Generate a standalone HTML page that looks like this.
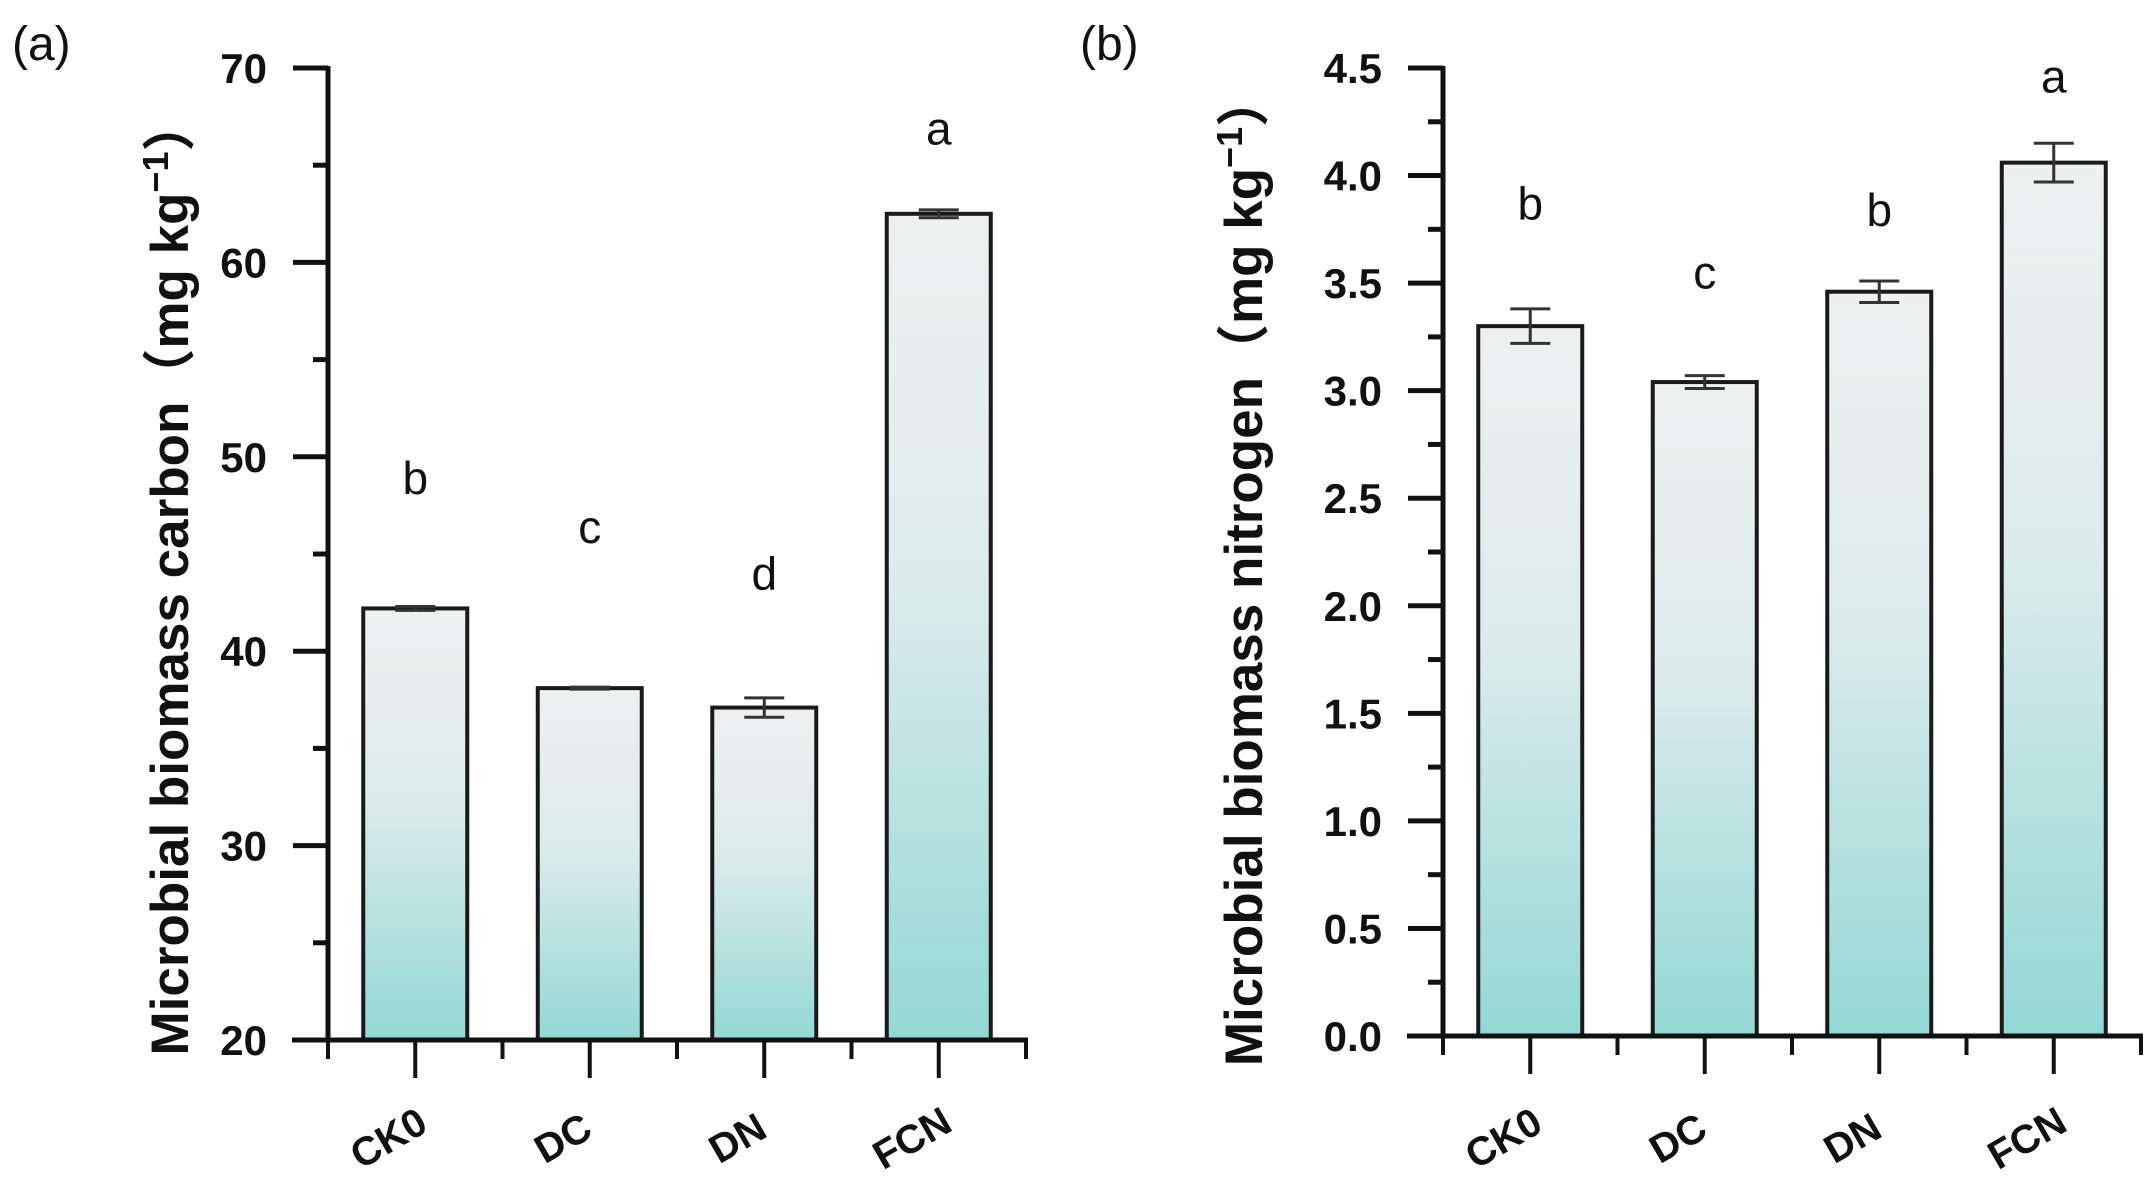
<!DOCTYPE html>
<html><head><meta charset="utf-8">
<style>
html,body{margin:0;padding:0;background:#fff;}
svg{display:block;font-family:"Liberation Sans","Noto Sans CJK SC",sans-serif;}
</style></head>
<body>
<svg id="chart" width="2155" height="1203" viewBox="0 0 2155 1203" xmlns="http://www.w3.org/2000/svg">
<defs>
<linearGradient id="barGrad" x1="0" y1="0" x2="0" y2="1">
<stop offset="0" stop-color="#eff0f0"/>
<stop offset="0.45" stop-color="#dcebea"/>
<stop offset="1" stop-color="#93d8d4"/>
</linearGradient>
</defs>
</svg>
<script>
const categories = ["CK0","DC","DN","FCN"];
const carbonValues = [42.2, 38.1, 37.1, 62.5];
const carbonErrors = [0.1, 0.05, 0.5, 0.2];
const carbonLetters = ["b","c","d","a"];
const carbonLetterPos = [48.9, 46.4, 44.0, 66.9];
const carbonTicks = [20,30,40,50,60,70];
const nitrogenValues = [3.30, 3.04, 3.46, 4.06];
const nitrogenErrors = [0.08, 0.03, 0.05, 0.09];
const nitrogenLetters = ["b","c","b","a"];
const nitrogenLetterPos = [3.87, 3.55, 3.84, 4.46];
const nitrogenTicks = ["0.0","0.5","1.0","1.5","2.0","2.5","3.0","3.5","4.0","4.5"];

const NS = "http://www.w3.org/2000/svg";
const svg = document.getElementById("chart");
function mk(tag, attrs, parent){
  const e = document.createElementNS(NS, tag);
  for (const k in attrs) e.setAttribute(k, attrs[k]);
  (parent||svg).appendChild(e);
  return e;
}

function panel(cfg){
  const g = mk("g", {});
  
  
  const y = v => cfg.y0 - (v - cfg.min) / (cfg.max - cfg.min) * (cfg.y0 - cfg.y1);
  const step = 174.5;
  const x = i => cfg.ax + step/2 + i*step;
  const pl = mk("text", {x: cfg.labelX, y: 60, "font-size": 48, fill:"#111"}, g);
  pl.textContent = cfg.panelLabel;
  
  
  cfg.values.forEach((v,i)=>{
    const bw = 104;
    const r = mk("rect", {x: x(i)-bw/2, y: y(v), width: bw, height: cfg.y0 - y(v), fill:"url(#barGrad)", stroke:"#1a1a1a", "stroke-width":4}, g);
    
    
    const e = cfg.errors[i];
    const eb = mk("path", {d:`M${x(i)-20},${y(v+e)}H${x(i)+20}M${x(i)},${y(v+e)}V${y(v-e)}M${x(i)-20},${y(v-e)}H${x(i)+20}`, stroke:"#333", "stroke-width":3, fill:"none"}, g);
    
    
    const lt = mk("text", {x: x(i), y: y(cfg.letterPos[i]) + 16, "font-size": 46, "text-anchor":"middle", fill:"#111"}, g);
    lt.textContent = cfg.letters[i];
    
    
    const xl = mk("text", {x: 0, y: 0, "font-size": 40, "font-weight":"bold", "text-anchor":"middle", fill:"#111", transform:`translate(${x(i)-20},${1150}) rotate(-30)`}, g);
    xl.textContent = categories[i];
    
    
  });
  const ya = mk("line", {x1: cfg.ax, y1: cfg.y1-2, x2: cfg.ax, y2: cfg.y0+2, stroke:"#111", "stroke-width":5}, g);
  
  
  const xa = mk("line", {x1: cfg.ax-36, y1: cfg.y0, x2: cfg.ax+4*step+2, y2: cfg.y0, stroke:"#111", "stroke-width":5}, g);
  
  
  for (let i=0;i<=4;i++){
    mk("line", {x1: cfg.ax+i*step, y1: cfg.y0, x2: cfg.ax+i*step, y2: cfg.y0+19, stroke:"#111", "stroke-width":4}, g);
    if (i<4) mk("line", {x1: x(i), y1: cfg.y0, x2: x(i), y2: cfg.y0+38, stroke:"#111", "stroke-width":4}, g);
  }
  cfg.ticks.forEach((t,k)=>{
    const v = parseFloat(t);
    mk("line", {x1: cfg.ax-35, y1: y(v), x2: cfg.ax, y2: y(v), stroke:"#111", "stroke-width":5}, g);
    if (k < cfg.ticks.length-1){
      const m = (v + parseFloat(cfg.ticks[k+1]))/2;
      mk("line", {x1: cfg.ax-15, y1: y(m), x2: cfg.ax, y2: y(m), stroke:"#111", "stroke-width":5}, g);
    }
    const tl = mk("text", {x: cfg.ax-61, y: y(v)+15, "font-size": 42, "font-weight":"bold", "text-anchor":"end", fill:"#111"}, g);
    tl.textContent = t;
    
    
  });
  const yt = mk("text", {x:0, y:0, "font-size": 53, "font-weight":"bold", "text-anchor":"middle", fill:"#111", transform:`translate(${cfg.titleX},${cfg.titleY}) rotate(-90)`}, g);
  yt.innerHTML = cfg.title + '（mg kg<tspan dy="-20" font-size="36">−1</tspan><tspan dy="20">）</tspan>';
  
  
}

panel({name:"carbon-panel", panelLabel:"(a)", labelX:12, ax:328, y0:1040, y1:68, min:20, max:70,
  values:carbonValues, errors:carbonErrors, letters:carbonLetters, letterPos:carbonLetterPos,
  ticks:carbonTicks.map(String), title:"Microbial biomass carbon", titleX:188, titleY:577});
panel({name:"nitrogen-panel", panelLabel:"(b)", labelX:1080, ax:1443, y0:1036, y1:68, min:0, max:4.5,
  values:nitrogenValues, errors:nitrogenErrors, letters:nitrogenLetters, letterPos:nitrogenLetterPos,
  ticks:nitrogenTicks, title:"Microbial biomass nitrogen", titleX:1262, titleY:570});
</script>
</body></html>
